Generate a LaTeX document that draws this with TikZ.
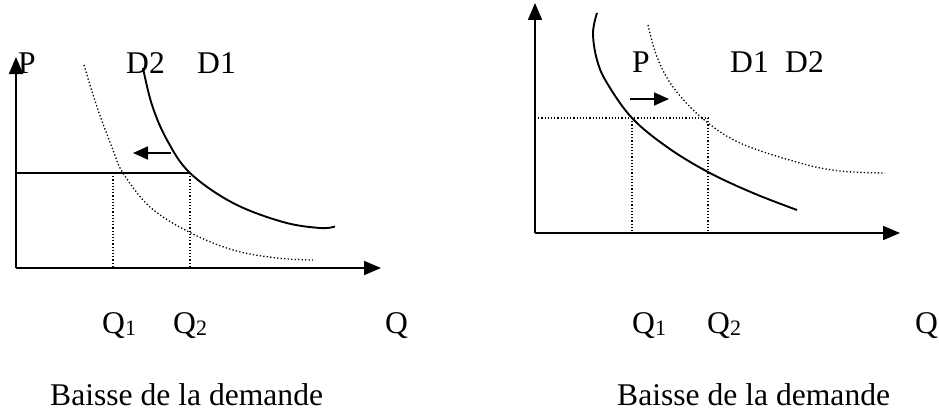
\documentclass[tikz,border=0pt]{standalone}
\usepackage{fontspec}
\setmainfont{Liberation Serif}
\usetikzlibrary{arrows.meta}
\newcommand{\subdig}[1]{\raisebox{-2pt}{\fontsize{22}{22}\selectfont #1}}
\begin{document}
\begin{tikzpicture}[x=1pt,y=-1pt,
  lbl/.style={anchor=base west,inner sep=0pt,font=\fontsize{31.6}{38}\selectfont},
  axis/.style={line width=1.8pt,-{Triangle[length=17pt,width=14pt]}},
  curve/.style={line width=1.9pt},
  dotcurve/.style={line width=1.3pt,dash pattern=on 1.3pt off 2.2pt},
  guide/.style={line width=1.1pt,dash pattern=on 1.2pt off 2pt},
  shiftarrow/.style={line width=1.8pt,-{Triangle[length=15pt,width=13pt]}}]
\useasboundingbox (0,0) rectangle (939,412);

% ---------- left graph ----------
\coordinate (LO) at (16,268);
\coordinate (LY) at (16,57);
\coordinate (LX) at (381,268);
\draw[axis] (LO) -- (LY);
\draw[axis] (LO) -- (LX);
\coordinate (LP) at (16,173);
\coordinate (LE) at (190,173);
\coordinate (LQ1) at (113,173);
\coordinate (LQ1b) at (113,268);
\coordinate (LQ2b) at (190,268);
\draw[line width=1.8pt] (LP) -- (LE);
\draw[guide] (LQ1) -- (LQ1b);
\draw[guide] (LE) -- (LQ2b);
\draw[curve] plot[smooth,tension=0.6] coordinates {(143,68) (152,105) (167,140) (190,173) (233,203) (283,222) (320,228) (335,226.5)};
\draw[dotcurve] plot[smooth,tension=0.6] coordinates {(84,65) (97,107) (113,150) (123,173) (150,207) (189,232) (233,250) (277,258) (313,260)};
\coordinate (LAs) at (171,153);
\coordinate (LAe) at (133,153);
\draw[shiftarrow] (LAs) -- (LAe);
\node[lbl] (lP) at (18,74) {P};
\node[lbl] (lD2) at (126,74) {D2};
\node[lbl] (lD1) at (197,74) {D1};
\node[lbl] (lq1) at (102,333) {Q\subdig{1}};
\node[lbl] (lq2) at (173,333) {Q\subdig{2}};
\node[lbl] (lq) at (385,333) {Q};
\node[lbl] (lcap) at (50,405) {Baisse de la demande};

% ---------- right graph ----------
\coordinate (RO) at (535,233);
\coordinate (RY) at (535,3);
\coordinate (RX) at (900,233);
\draw[axis] (RO) -- (RY);
\draw[axis] (RO) -- (RX);
\coordinate (RP) at (535,118);
\coordinate (RE) at (708,118);
\coordinate (RQ1) at (632,118);
\coordinate (RQ1b) at (632,233);
\coordinate (RQ2b) at (708,233);
\draw[guide] (RP) -- (RE);
\draw[guide] (RQ1) -- (RQ1b);
\draw[guide] (RE) -- (RQ2b);
\draw[curve] plot[smooth,tension=0.6] coordinates {(597,13) (593,33) (597,60) (607,83) (632,118) (667,147) (708,172) (753,193) (797,210)};
\draw[dotcurve] plot[smooth,tension=0.6] coordinates {(648,25) (657,57) (673,87) (702,118) (740,143) (800,163) (840,171) (885,173)};
\coordinate (RAs) at (630,99);
\coordinate (RAe) at (669,99);
\draw[shiftarrow] (RAs) -- (RAe);
\node[lbl] (rP) at (632,73) {P};
\node[lbl] (rD1) at (730,73) {D1};
\node[lbl] (rD2) at (785,73) {D2};
\node[lbl] (rq1) at (632,333) {Q\subdig{1}};
\node[lbl] (rq2) at (707,333) {Q\subdig{2}};
\node[lbl] (rq) at (915,333) {Q};
\node[lbl] (rcap) at (617,405) {Baisse de la demande};
\end{tikzpicture}
\end{document}
